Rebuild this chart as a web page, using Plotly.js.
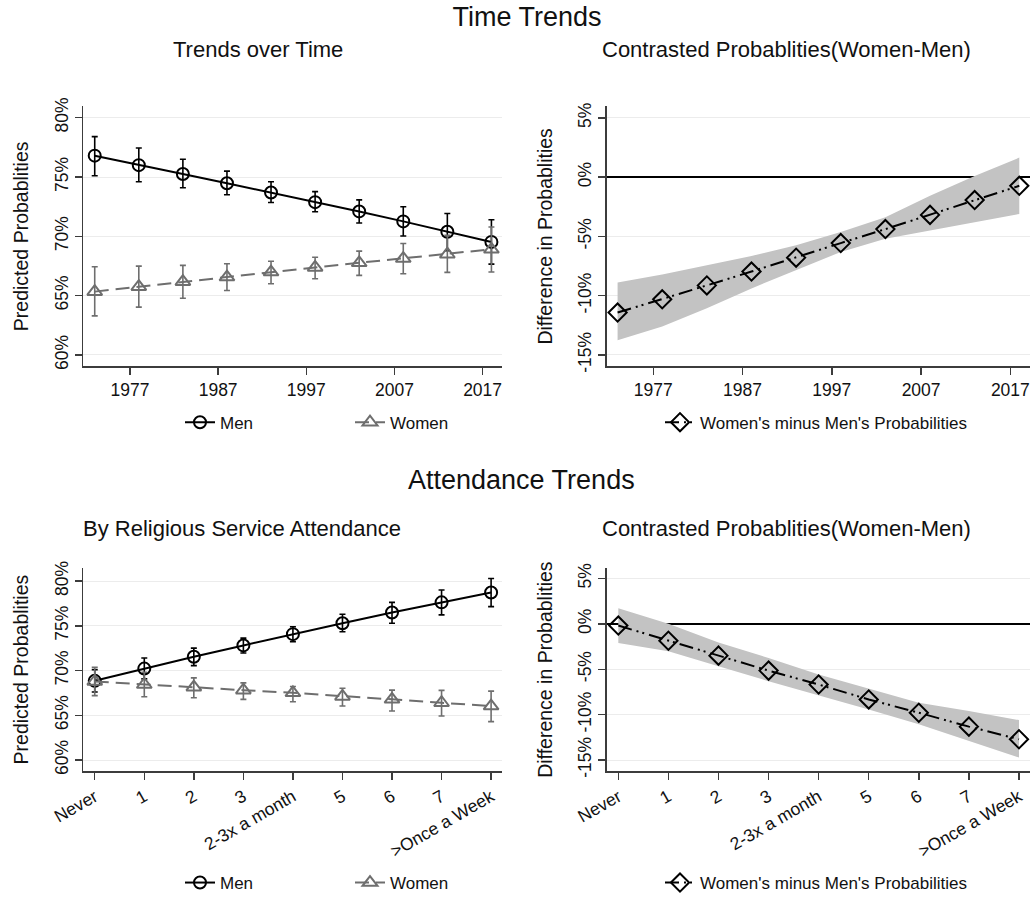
<!DOCTYPE html>
<html><head><meta charset="utf-8">
<script src="https://cdn.plot.ly/plotly-3.0.1.min.js"></script>
<style>html,body{margin:0;padding:0;background:#fff}#chart{width:1031px;height:901px}</style>
</head><body><div id="chart"></div>
<script>
// ---- Data ----
const years = [1973, 1978, 1983, 1988, 1993, 1998, 2003, 2008, 2013, 2018];
const menTime   = [76.80, 76.00, 75.25, 74.47, 73.69, 72.88, 72.10, 71.26, 70.39, 69.53];
const menTimeHi = [78.40, 77.45, 76.50, 75.50, 74.60, 73.77, 73.07, 72.49, 71.93, 71.40];
const menTimeLo = [75.10, 74.60, 74.10, 73.50, 72.85, 72.07, 71.12, 70.03, 68.78, 67.66];
const womenTime   = [65.34, 65.76, 66.18, 66.57, 66.99, 67.38, 67.77, 68.13, 68.49, 68.91];
const womenTimeHi = [67.44, 67.49, 67.55, 67.69, 67.90, 68.24, 68.75, 69.39, 70.08, 70.79];
const womenTimeLo = [63.30, 64.03, 64.78, 65.43, 66.00, 66.43, 66.71, 66.85, 66.96, 67.00];
const diffTime   = [-11.42, -10.30, -9.13, -7.96, -6.79, -5.56, -4.38, -3.18, -1.93, -0.73];
const diffTimeHi = [-8.88, -8.20, -7.43, -6.64, -5.75, -4.63, -3.38, -1.56, 0.11, 1.65];
const diffTimeLo = [-13.76, -12.60, -11.06, -9.38, -7.85, -6.31, -5.19, -4.50, -3.80, -3.10];

const attend = ["Never", "1", "2", "3", "2-3x a month", "5", "6", "7", ">Once a Week"];
const menAtt   = [68.85, 70.22, 71.55, 72.81, 74.07, 75.29, 76.48, 77.62, 78.73];
const menAttHi = [70.10, 71.40, 72.51, 73.62, 74.89, 76.29, 77.62, 79.00, 80.29];
const menAttLo = [67.60, 69.07, 70.55, 71.96, 73.22, 74.33, 75.29, 76.22, 77.14];
const womenAtt   = [68.78, 68.44, 68.14, 67.81, 67.51, 67.11, 66.78, 66.40, 66.03];
const womenAttHi = [70.37, 69.81, 69.18, 68.62, 68.22, 68.03, 67.81, 67.78, 67.70];
const womenAttLo = [67.20, 67.07, 66.96, 66.78, 66.51, 66.03, 65.48, 64.92, 64.29];
const diffAtt   = [-0.19, -1.86, -3.50, -5.15, -6.68, -8.33, -9.79, -11.32, -12.71];
const diffAttHi = [1.71, 0.00, -2.05, -3.76, -5.59, -7.16, -8.70, -9.60, -10.60];
const diffAttLo = [-2.12, -3.03, -4.68, -6.32, -7.89, -9.42, -11.06, -12.90, -14.72];

const yearTicks = [1977, 1987, 1997, 2007, 2017];
const probTicks = [60, 65, 70, 75, 80];
const diffTicks = [-15, -10, -5, 0, 5];

// ---- Styling ----
const FONT = 'Liberation Sans, Arial, Helvetica, sans-serif';
const W = 1031, H = 901;
const px = v => v / W;
const py = v => 1 - v / H;
const MEN = '#000000', WOMEN = '#6e6e6e', BAND = '#c3c3c3';

function err(val, hi, lo, color) {
  return {type: 'data', symmetric: false,
    array: hi.map((h, i) => h - val[i]),
    arrayminus: val.map((v, i) => v - lo[i]),
    color: color, thickness: 1.6, width: 3};
}
function band(x, hi, lo, xa, ya) {
  return {x: x.concat(x.slice().reverse()), y: hi.concat(lo.slice().reverse()),
    xaxis: xa, yaxis: ya, type: 'scatter', mode: 'lines', fill: 'toself',
    fillcolor: BAND, line: {width: 0, color: BAND}, showlegend: false, hoverinfo: 'skip'};
}
function menTrace(x, y, hi, lo, xa, ya, lg) {
  return {x: x, y: y, xaxis: xa, yaxis: ya, type: 'scatter', mode: 'lines+markers', name: 'Men',
    legend: lg, line: {color: MEN, width: 2},
    marker: {symbol: 'circle-open', size: 12, color: MEN, line: {width: 2, color: MEN}},
    error_y: err(y, hi, lo, MEN)};
}
function womenTrace(x, y, hi, lo, xa, ya, lg) {
  return {x: x, y: y, xaxis: xa, yaxis: ya, type: 'scatter', mode: 'lines+markers', name: 'Women',
    legend: lg, line: {color: WOMEN, width: 2, dash: '14px,7px'},
    marker: {symbol: 'triangle-up-open', size: 13, color: WOMEN, line: {width: 2, color: WOMEN}},
    error_y: err(y, hi, lo, WOMEN)};
}
function diffTrace(x, y, xa, ya, lg) {
  return {x: x, y: y, xaxis: xa, yaxis: ya, type: 'scatter', mode: 'lines+markers',
    name: "Women's minus Men's Probabilities", legend: lg,
    line: {color: '#000', width: 2, dash: '14px,5px,2px,4px,2px,5px'},
    marker: {symbol: 'diamond-open', size: 14, color: '#000', line: {width: 2, color: '#000'}}};
}

const traces = [
  band(years, diffTimeHi, diffTimeLo, 'x2', 'y2'),
  menTrace(years, menTime, menTimeHi, menTimeLo, 'x', 'y', 'legend'),
  womenTrace(years, womenTime, womenTimeHi, womenTimeLo, 'x', 'y', 'legend'),
  diffTrace(years, diffTime, 'x2', 'y2', 'legend2'),
  band(attend, diffAttHi, diffAttLo, 'x4', 'y4'),
  menTrace(attend, menAtt, menAttHi, menAttLo, 'x3', 'y3', 'legend3'),
  womenTrace(attend, womenAtt, womenAttHi, womenAttLo, 'x3', 'y3', 'legend3'),
  diffTrace(attend, diffAtt, 'x4', 'y4', 'legend4')
];

const AX = {showline: true, linecolor: '#3c3c3c', linewidth: 1.5, ticks: 'outside', ticklen: 7,
  tickwidth: 1.5, tickcolor: '#3c3c3c', tickfont: {size: 17.5, color: '#111'}, zeroline: false,
  mirror: false, automargin: false};
function yax(domain, range, tickvals, title, zero) {
  return Object.assign({}, AX, {domain: domain, range: range, tickmode: 'array', tickvals: tickvals,
    ticktext: tickvals.map(v => v + '%'), tickangle: -90, showgrid: true, gridcolor: '#ececec', gridwidth: 1,
    zeroline: !!zero, zerolinecolor: '#000', zerolinewidth: 2,
    title: {text: title, font: {size: 19.5, color: '#111'}, standoff: 17}});
}
function xaxNum(domain, range, anchor) {
  return Object.assign({}, AX, {domain: domain, range: range, tickmode: 'array', tickvals: yearTicks,
    showgrid: false, anchor: anchor});
}
function xaxCat(domain, range, anchor) {
  return Object.assign({}, AX, {domain: domain, range: range, type: 'category', tickangle: -30,
    showgrid: false, anchor: anchor});
}

const topY = [py(368.3), py(107)];
const botY = [py(775.7), py(571)];
const leftX = [px(83), px(502)];
const rightX = [px(606.7), px(1030)];

const ann = (text, x, y, size) => ({text: text, x: x, y: y, xref: 'paper', yref: 'paper',
  xanchor: 'center', yanchor: 'middle', showarrow: false, font: {size: size, color: '#111'}});

const LEG = {orientation: 'h', xanchor: 'left', yanchor: 'middle', font: {size: 17, color: '#111'},
  bgcolor: 'rgba(0,0,0,0)', entrywidthmode: 'pixels'};

const layout = {
  width: W, height: H, margin: {l: 0, r: 0, t: 0, b: 0},
  paper_bgcolor: '#fff', plot_bgcolor: '#fff',
  font: {family: FONT, color: '#111'},
  title: {text: 'Time Trends', x: px(527), y: py(17), xanchor: 'center', yanchor: 'middle',
    xref: 'paper', yref: 'container', font: {size: 27, color: '#111'}},
  xaxis: xaxNum(leftX, [1971.67, 2019.2], 'y'),
  yaxis: yax(topY, [59.05, 80.95], probTicks, 'Predicted Probablities', false),
  xaxis2: xaxNum(rightX, [1971.78, 2019.2], 'y2'),
  yaxis2: Object.assign(yax(topY, [-15.95, 5.97], diffTicks, 'Difference in Probablities', true), {anchor: 'x2'}),
  xaxis3: xaxCat(leftX, [-0.237, 8.22], 'y3'),
  yaxis3: Object.assign(yax(botY, [58.73, 81.48], probTicks, 'Predicted Probablities', false), {anchor: 'x3'}),
  xaxis4: xaxCat(rightX, [-0.232, 8.22], 'y4'),
  yaxis4: Object.assign(yax(botY, [-16.25, 6.17], diffTicks, 'Difference in Probablities', true), {anchor: 'x4'}),
  annotations: [
    ann('Trends over Time', px(258), py(50), 22),
    ann('Contrasted Probablities(Women-Men)', px(786), py(50), 22),
    ann('Attendance Trends', px(521), py(483), 27),
    ann('By Religious Service Attendance', px(242), py(531), 22),
    ann('Contrasted Probablities(Women-Men)', px(786), py(531), 22)
  ],
  legend:  Object.assign({}, LEG, {x: px(180), y: py(425), entrywidth: 125}),
  legend2: Object.assign({}, LEG, {x: px(660), y: py(425)}),
  legend3: Object.assign({}, LEG, {x: px(180), y: py(888), entrywidth: 125}),
  legend4: Object.assign({}, LEG, {x: px(660), y: py(888)}),
  showlegend: true
};

Plotly.newPlot('chart', traces, layout, {displayModeBar: false, staticPlot: true});
</script></body></html>
